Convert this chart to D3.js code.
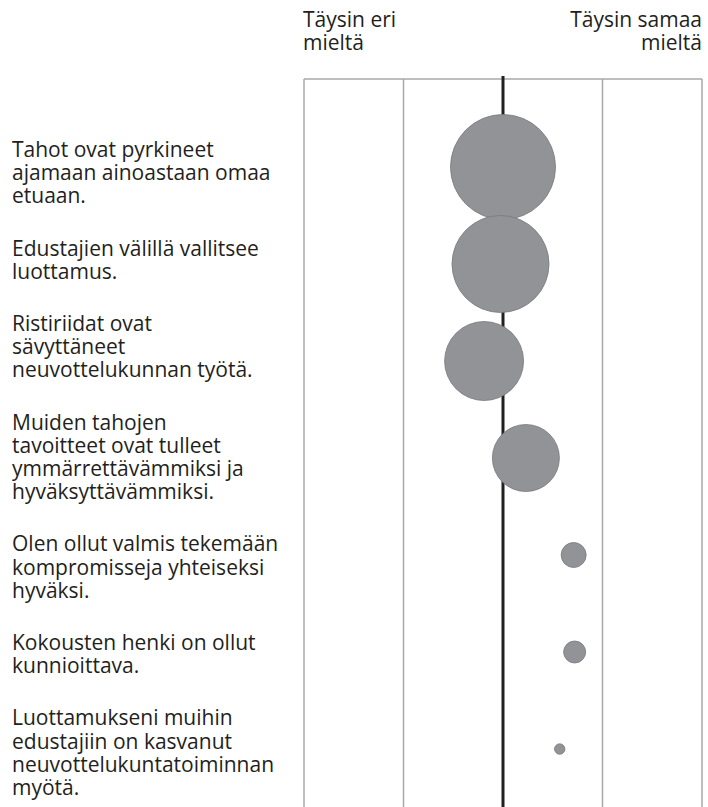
<!DOCTYPE html>
<html>
<head>
<meta charset="utf-8">
<script src="https://cdn.jsdelivr.net/npm/d3@7"></script>
<style>
  body { margin: 0; background: #fff; }
  text { font-family: 'Open Sans', sans-serif; fill: #231f20; }
</style>
</head>
<body>
<div id="chart"></div>
<script>
'use strict';

const statements = [
  ['Tahot ovat pyrkineet', 'ajamaan ainoastaan omaa', 'etuaan.'],
  ['Edustajien välillä vallitsee', 'luottamus.'],
  ['Ristiriidat ovat', 'sävyttäneet', 'neuvottelukunnan työtä.'],
  ['Muiden tahojen', 'tavoitteet ovat tulleet', 'ymmärrettävämmiksi ja', 'hyväksyttävämmiksi.'],
  ['Olen ollut valmis tekemään', 'kompromisseja yhteiseksi', 'hyväksi.'],
  ['Kokousten henki on ollut', 'kunnioittava.'],
  ['Luottamukseni muihin', 'edustajiin on kasvanut', 'neuvottelukuntatoiminnan', 'myötä.']
];
// mean on a 1-5 scale
const means = [3.00, 2.975, 2.81, 3.23, 3.71, 3.72, 3.57];
// spread, drawn as circle size
const spreads = [1.05, 0.97, 0.79, 0.67, 0.25, 0.22, 0.104];
const scaleTicks = [1, 2, 3, 4, 5];
const leftHeader = ['Täysin eri', 'mieltä'];
const rightHeader = ['Täysin samaa', 'mieltä'];

const width = 708, height = 807;
const margin = {top: 79, left: 304, right: 6};
const lineHeight = 23.2;
const blockGap = 29;

const svg = d3.select('#chart').append('svg')
  .attr('width', width)
  .attr('height', height);

const x = d3.scaleLinear()
  .domain([1, 5])
  .range([margin.left, width - margin.right]);

const y = d3.scalePoint()
  .domain(d3.range(statements.length))
  .range([167, 749]);

const r = d3.scaleLinear()
  .domain([0, 1])
  .range([0, 50]);

// frame and grid
svg.append('line')
  .attr('x1', x(1)).attr('x2', x(5))
  .attr('y1', margin.top).attr('y2', margin.top)
  .attr('stroke', '#a9a9a9')
  .attr('stroke-width', 1.5);

svg.selectAll('.grid')
  .data(scaleTicks.filter((d) => d !== 3))
  .enter().append('line')
    .attr('class', 'grid')
    .attr('x1', (d) => x(d)).attr('x2', (d) => x(d))
    .attr('y1', margin.top).attr('y2', height)
    .attr('stroke', '#a9a9a9')
    .attr('stroke-width', 1.5);

svg.append('line')
  .attr('x1', x(3)).attr('x2', x(3))
  .attr('y1', margin.top - 3).attr('y2', height)
  .attr('stroke', '#231f20')
  .attr('stroke-width', 3);

// bubbles
svg.selectAll('.bubble')
  .data(means)
  .enter().append('circle')
    .attr('class', 'bubble')
    .attr('cx', (d) => x(d))
    .attr('cy', (d, i) => y(i))
    .attr('r', (d, i) => r(spreads[i]))
    .attr('fill', '#929397')
    .attr('stroke', '#77787c')
    .attr('stroke-width', 0.8);

// row labels, stacked top-down with a fixed gap between blocks
let baseline = 157;
const firstBaselines = statements.map((d) => {
  const b = baseline;
  baseline += d.length * lineHeight + blockGap;
  return b;
});

const labels = svg.selectAll('.label')
  .data(statements)
  .enter().append('text')
    .attr('class', 'label')
    .attr('x', 12)
    .attr('font-size', 21);

labels.selectAll('tspan')
  .data((d, i) => d.map((line, j) => ({line, j, i})))
  .enter().append('tspan')
    .attr('x', 12)
    .attr('y', (d) => firstBaselines[d.i] + d.j * lineHeight)
    .text((d) => d.line);

// scale end headers
function header(lines, xPos, anchor) {
  svg.append('text')
    .attr('font-size', 21)
    .attr('text-anchor', anchor)
    .selectAll('tspan')
    .data(lines)
    .enter().append('tspan')
      .attr('x', xPos)
      .attr('y', (d, i) => 27 + i * lineHeight)
      .text((d) => d);
}
header(leftHeader, x(1) - 1, 'start');
header(rightHeader, x(5), 'end');
</script>
</body>
</html>
